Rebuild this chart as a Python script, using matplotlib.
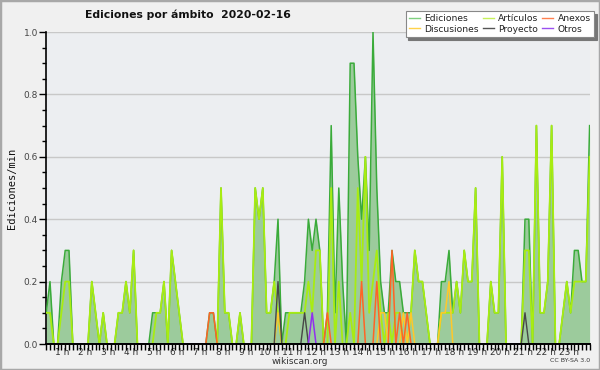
import numpy as np
import matplotlib
matplotlib.use("Agg")
import matplotlib.pyplot as plt
from matplotlib.ticker import MultipleLocator, FixedLocator
from matplotlib.lines import Line2D
from matplotlib.patches import Rectangle

# 10-minute bins, edits per minute
ediciones = [0.1, 0.2, 0, 0, 0.2, 0.3, 0.3, 0, 0, 0,
             0, 0, 0.2, 0.1, 0, 0.1, 0, 0, 0, 0.1,
             0.1, 0.2, 0.1, 0.3, 0, 0, 0, 0, 0.1, 0.1,
             0.1, 0.2, 0, 0.3, 0.2, 0.1, 0, 0, 0, 0,
             0, 0, 0, 0.1, 0.1, 0, 0.5, 0.1, 0.1, 0,
             0, 0.1, 0, 0, 0, 0.5, 0.4, 0.5, 0.1, 0.1,
             0.2, 0.4, 0, 0.1, 0.1, 0.1, 0.1, 0.1, 0.2, 0.4,
             0.3, 0.4, 0.3, 0, 0.1, 0.7, 0.1, 0.5, 0.2, 0,
             0.9, 0.9, 0.6, 0.4, 0.6, 0.3, 1.0, 0.5, 0.2, 0.1,
             0.1, 0.3, 0.2, 0.2, 0.1, 0.1, 0.1, 0.3, 0.2, 0.2,
             0.1, 0, 0, 0, 0.2, 0.2, 0.3, 0.1, 0.2, 0.1,
             0.3, 0.2, 0.2, 0.5, 0, 0, 0, 0.2, 0.1, 0.1,
             0.6, 0, 0, 0, 0, 0, 0.4, 0.4, 0, 0.7,
             0.1, 0.1, 0.2, 0.7, 0, 0, 0.1, 0.2, 0.1, 0.3,
             0.3, 0.2, 0.2, 0.7]
articulos = [0.1, 0.1, 0, 0, 0.1, 0.2, 0.2, 0, 0, 0,
             0, 0, 0.2, 0.1, 0, 0.1, 0, 0, 0, 0.1,
             0.1, 0.2, 0.1, 0.3, 0, 0, 0, 0, 0, 0.1,
             0.1, 0.2, 0, 0.3, 0.2, 0.1, 0, 0, 0, 0,
             0, 0, 0, 0, 0, 0, 0.5, 0.1, 0.1, 0,
             0, 0.1, 0, 0, 0, 0.5, 0.4, 0.5, 0.1, 0.1,
             0.2, 0.1, 0, 0, 0.1, 0.1, 0.1, 0.1, 0.1, 0.2,
             0.1, 0.3, 0.3, 0, 0, 0.5, 0, 0.2, 0, 0,
             0.1, 0, 0.5, 0.2, 0.6, 0.1, 0.2, 0.3, 0.1, 0,
             0.1, 0, 0.1, 0.1, 0, 0, 0.1, 0.3, 0.2, 0.2,
             0.1, 0, 0, 0, 0.1, 0.1, 0.1, 0.1, 0.2, 0.1,
             0.3, 0.2, 0.2, 0.5, 0, 0, 0, 0.2, 0.1, 0.1,
             0.6, 0, 0, 0, 0, 0, 0.3, 0.3, 0, 0.7,
             0.1, 0.1, 0.2, 0.7, 0, 0, 0.1, 0.2, 0.1, 0.2,
             0.2, 0.2, 0.2, 0.6]
# sparse series: bin index -> value
anexos_pts = {43: 0.1, 44: 0.1, 74: 0.1, 83: 0.2, 87: 0.2, 91: 0.3, 93: 0.1, 95: 0.1}
discusiones_pts = {61: 0.1, 88: 0.1, 89: 0.1, 94: 0.1, 96: 0.1, 104: 0.1, 105: 0.1, 106: 0.2}
proyecto_pts = {61: 0.2, 68: 0.1, 126: 0.1}
otros_pts = {70: 0.1}

hours = list(range(1, 24))
hour_labels = ["%d h" % h for h in hours]

n = len(ediciones)
x = np.arange(n)

def dense(pts):
    arr = np.zeros(n)
    for k, v in pts.items():
        arr[k] = v
    return arr

anexos = dense(anexos_pts)
discusiones = dense(discusiones_pts)
proyecto = dense(proyecto_pts)
otros = dense(otros_pts)

c_ed, c_fill = "#3aab3a", "#9ccb9c"
c_art = "#a8ec12"
c_dis = "#ffc82a"
c_anx = "#ff6426"
c_pro = "#474747"
c_otr = "#9030ee"

fig = plt.figure(figsize=(6, 3.7), dpi=100, facecolor="#f0f0f0")
ax = fig.add_axes([46.2/600, 26/370, 543.4/600, 312/370])
ax.set_facecolor("#eceef1")

ax.fill_between(x, ediciones, 0, color=c_fill, lw=0, zorder=2)
ax.plot(x, ediciones, color=c_ed, lw=1.1, zorder=3)
ax.plot(x, articulos, color=c_art, lw=1.3, zorder=4)
ax.plot(x, discusiones, color=c_dis, lw=1.1, zorder=5)
ax.plot(x, anexos, color=c_anx, lw=1.1, zorder=6)
ax.plot(x, proyecto, color=c_pro, lw=1.0, zorder=7)
ax.plot(x, otros, color=c_otr, lw=1.1, zorder=8)

ax.set_xlim(0, n - 1)
ax.set_ylim(0, 1.0)

ax.yaxis.set_minor_locator(MultipleLocator(0.05))
ax.set_yticks(np.arange(0, 1.01, 0.2))
ax.set_yticklabels(["%.1f" % v for v in np.arange(0, 1.01, 0.2)])
ax.tick_params(axis="y", which="major", length=5, width=1, direction="out",
               labelsize=6.5, labelcolor="#444444", pad=1)
ax.tick_params(axis="y", which="minor", length=3, width=1, direction="out")
ax.grid(axis="y", which="major", color="#c8c8c8", lw=1, zorder=1)
ax.set_axisbelow(True)

ax.xaxis.set_minor_locator(MultipleLocator(1))
ax.xaxis.set_major_locator(FixedLocator([-1.9 + 6.066*h for h in hours]))
ax.set_xticklabels(hour_labels)
ax.tick_params(axis="x", which="major", length=0, labelsize=6.5, labelcolor="#333333", pad=3)
ax.tick_params(axis="x", which="minor", length=4, width=1, direction="out")

for s in ("top", "right"):
    ax.spines[s].set_visible(False)
ax.spines["left"].set_linewidth(1.2)
ax.spines["bottom"].set_linewidth(1.4)
ax.spines["bottom"].set_zorder(10)

fig.text(85/600, 1 - 15/370, "Ediciones por ámbito  2020-02-16", fontsize=7.8,
         fontweight="bold", va="center", ha="left", color="#111111")
fig.text(12/600, 1 - 188/370, "Ediciones/min", rotation=90, fontsize=7.5,
         family="DejaVu Sans Mono", va="center", ha="center", color="#111111")
fig.text(300/600, 1 - 361/370, "wikiscan.org", fontsize=6.5, ha="center",
         va="center", color="#333333")
fig.text(590/600, 1 - 361/370, "CC BY-SA 3.0", fontsize=4.5, ha="right",
         va="center", color="#333333")

handles = [Line2D([], [], color="#7fd07f", lw=1),
           Line2D([], [], color="#ffd24a", lw=1),
           Line2D([], [], color="#c6f05a", lw=1),
           Line2D([], [], color="#555555", lw=1),
           Line2D([], [], color="#ff8050", lw=1),
           Line2D([], [], color="#9a50f0", lw=1)]
labels = ["Ediciones", "Discusiones", "Artículos", "Proyecto", "Anexos", "Otros"]
leg = fig.legend(handles, labels, ncol=3, loc="upper right",
                 bbox_to_anchor=(594/600, 1 - 11/370), fontsize=6.6,
                 frameon=True, fancybox=False, shadow={"color": "#777777", "alpha": 1},
                 handlelength=1.2, handletextpad=0.5, columnspacing=0.4,
                 labelspacing=0.15, borderpad=0.35, borderaxespad=0)
leg.get_frame().set_edgecolor("#888888")
leg.get_frame().set_linewidth(0.8)
for t in leg.get_texts():
    t.set_color("#222222")

fig.patches.append(Rectangle((0, 0), 1, 1, transform=fig.transFigure, fill=False,
                             edgecolor="#a8a8a8", lw=2.5))

fig.savefig("out.png", dpi=100, facecolor=fig.get_facecolor())
